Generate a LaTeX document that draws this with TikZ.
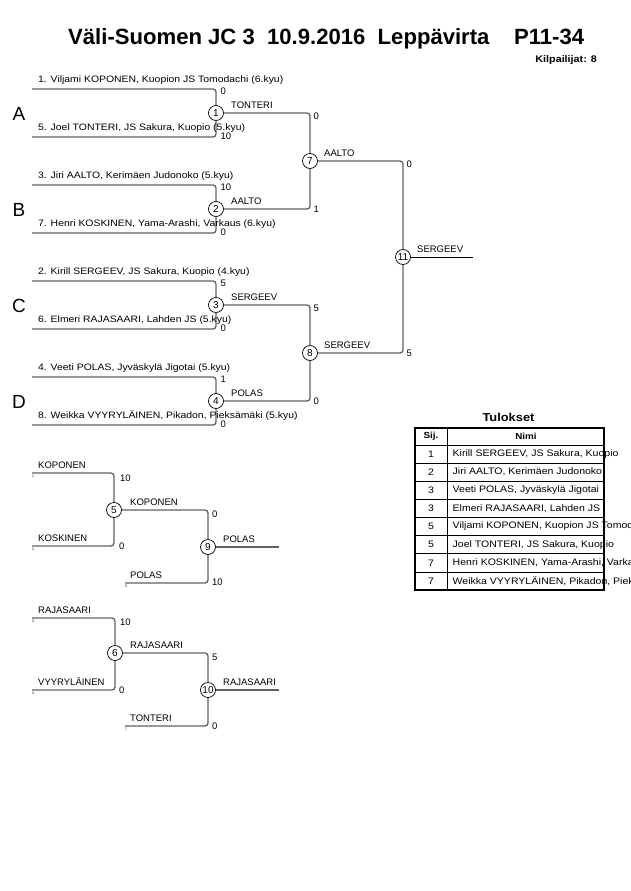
\documentclass[tikz,border=0pt]{standalone}
\usepackage{fontspec}
\setmainfont{Liberation Sans}
\newfontfamily\namefont[FakeStretch=1.12]{Liberation Sans}
\begin{document}
\begin{tikzpicture}[x=1pt,y=-1pt,
  ln/.style={draw=black!62, line width=1.3pt, rounded corners=3pt},
  fin/.style={draw=black, line width=0.9pt},
  mc/.style={circle, draw=black, line width=0.7pt, fill=white, minimum size=15pt, inner sep=0pt, font=\fontsize{10}{10}\selectfont},
  nm/.style={anchor=base west, inner sep=0pt, font=\namefont\fontsize{9.3}{10}\selectfont},
  lb/.style={anchor=base west, inner sep=0pt, font=\fontsize{9.5}{10}\selectfont},
  sc/.style={anchor=west, inner sep=0pt, font=\fontsize{9.5}{10}\selectfont},
  tn/.style={anchor=north west, inner sep=0pt, font=\fontsize{3.5}{4}\selectfont},
  grp/.style={inner sep=0pt, font=\fontsize{19}{20}\selectfont},
  tb/.style={inner sep=0pt, font=\namefont\fontsize{9.4}{10}\selectfont},
]
\useasboundingbox[fill=white] (0,0) rectangle (630,891);

% title
\node[anchor=base west, inner sep=0pt, font=\bfseries\fontsize{22.1}{24}\selectfont] (title) at (68,45) {Väli-Suomen JC 3~~10.9.2016~~Leppävirta~~~~P11-34};
\node[anchor=base east, inner sep=0pt, font=\namefont\bfseries\fontsize{9.6}{10}\selectfont] (kilp) at (597,62.5) {Kilpailijat: 8};

% ---------------- main bracket ----------------
\coordinate (s1) at (32,89);
\coordinate (s5) at (32,137);
\coordinate (s3) at (32,185);
\coordinate (s7) at (32,233);
\coordinate (s2) at (32,281);
\coordinate (s6) at (32,329);
\coordinate (s4) at (32,377);
\coordinate (s8) at (32,425);
\coordinate (f11) at (473,257);

\node[mc] (m1) at (216,113) {1};
\node[mc] (m2) at (216,209) {2};
\node[mc] (m3) at (216,305) {3};
\node[mc] (m4) at (216,401) {4};
\node[mc] (m7) at (310,161) {7};
\node[mc] (m8) at (310,353) {8};
\node[mc] (m11) at (403,257) {11};

\draw[ln] (s1) -| (m1);
\draw[ln] (s5) -| (m1);
\draw[ln] (s3) -| (m2);
\draw[ln] (s7) -| (m2);
\draw[ln] (s2) -| (m3);
\draw[ln] (s6) -| (m3);
\draw[ln] (s4) -| (m4);
\draw[ln] (s8) -| (m4);
\draw[ln] (m1) -| (m7);
\draw[ln] (m2) -| (m7);
\draw[ln] (m3) -| (m8);
\draw[ln] (m4) -| (m8);
\draw[ln] (m7) -| (m11);
\draw[ln] (m8) -| (m11);
\draw[fin] (m11) -- (f11);

% names
\node[nm] (n1) at (38,82.5) {1. Viljami KOPONEN, Kuopion JS Tomodachi (6.kyu)};
\node[nm] (n5) at (38,130.5) {5. Joel TONTERI, JS Sakura, Kuopio (5.kyu)};
\node[nm] (n3) at (38,178.5) {3. Jiri AALTO, Kerimäen Judonoko (5.kyu)};
\node[nm] (n7) at (38,226.5) {7. Henri KOSKINEN, Yama-Arashi, Varkaus (6.kyu)};
\node[nm] (n2) at (38,274.5) {2. Kirill SERGEEV, JS Sakura, Kuopio (4.kyu)};
\node[nm] (n6) at (38,322.5) {6. Elmeri RAJASAARI, Lahden JS (5.kyu)};
\node[nm] (n4) at (38,370.5) {4. Veeti POLAS, Jyväskylä Jigotai (5.kyu)};
\node[nm] (n8) at (38,418.5) {8. Weikka VYYRYLÄINEN, Pikadon, Pieksämäki (5.kyu)};

% pool letters
\node[grp] (gA) at (19,114) {A};
\node[grp] (gB) at (19,210) {B};
\node[grp] (gC) at (19,306) {C};
\node[grp] (gD) at (19,402) {D};

% winner labels
\node[lb] (w1) at (231,108) {TONTERI};
\node[lb] (w2) at (231,204) {AALTO};
\node[lb] (w3) at (231,300) {SERGEEV};
\node[lb] (w4) at (231,396) {POLAS};
\node[lb] (w7) at (324,156) {AALTO};
\node[lb] (w8) at (324,348) {SERGEEV};
\node[lb] (w11) at (417,252) {SERGEEV};

% scores
\node[sc] (c1a) at (220.5,91.5) {0};
\node[sc] (c1b) at (220.5,136) {10};
\node[sc] (c2a) at (220.5,187.5) {10};
\node[sc] (c2b) at (220.5,232) {0};
\node[sc] (c3a) at (220.5,283.5) {5};
\node[sc] (c3b) at (220.5,328) {0};
\node[sc] (c4a) at (220.5,379.5) {1};
\node[sc] (c4b) at (220.5,424) {0};
\node[sc] (c7a) at (313.5,116) {0};
\node[sc] (c7b) at (313.5,209) {1};
\node[sc] (c8a) at (313.5,308) {5};
\node[sc] (c8b) at (313.5,401) {0};
\node[sc] (c11a) at (406.5,164.5) {0};
\node[sc] (c11b) at (406.5,353) {5};

% ---------------- repechage 1 ----------------
\coordinate (r1) at (32,473);
\coordinate (r2) at (32,546);
\coordinate (r5) at (125,583);
\coordinate (f9) at (279,547);
\node[mc] (m5) at (114,510) {5};
\node[mc] (m9) at (208,547) {9};
\draw[ln] (r1) -| (m5);
\draw[ln] (r2) -| (m5);
\draw[ln] (m5) -| (m9);
\draw[ln] (r5) -| (m9);
\draw[ln] (m9) -- (f9);
\node[lb] (l1) at (38,468) {KOPONEN};
\node[lb] (l2) at (38,541) {KOSKINEN};
\node[lb] (l5) at (130,578) {POLAS};
\node[lb] (w5) at (130,505) {KOPONEN};
\node[lb] (w9) at (223,542) {POLAS};
\node[tn] (t1) at (32,475) {1};
\node[tn] (t2) at (32,548) {2};
\node[tn] (t5) at (125,585) {5};
\node[sc] (c5a) at (120,478) {10};
\node[sc] (c5b) at (119,546.5) {0};
\node[sc] (c9a) at (212,514) {0};
\node[sc] (c9b) at (212,582) {10};

% ---------------- repechage 2 ----------------
\coordinate (r3) at (32,618);
\coordinate (r4) at (32,690);
\coordinate (r7) at (125,726);
\coordinate (f10) at (279,690);
\node[mc] (m6) at (115,653) {6};
\node[mc] (m10) at (208,690) {10};
\draw[ln] (r3) -| (m6);
\draw[ln] (r4) -| (m6);
\draw[ln] (m6) -| (m10);
\draw[ln] (r7) -| (m10);
\draw[ln] (m10) -- (f10);
\node[lb] (l3) at (38,613) {RAJASAARI};
\node[lb] (l4) at (38,685) {VYYRYLÄINEN};
\node[lb] (l7) at (130,721) {TONTERI};
\node[lb] (w6) at (130,648) {RAJASAARI};
\node[lb] (w10) at (223,685) {RAJASAARI};
\node[tn] (t3) at (32,620) {3};
\node[tn] (t4) at (32,692) {4};
\node[tn] (t7) at (125,728) {7};
\node[sc] (c6a) at (120,622) {10};
\node[sc] (c6b) at (119,690) {0};
\node[sc] (c10a) at (212,657) {5};
\node[sc] (c10b) at (212,726) {0};

% ---------------- results table ----------------
\node[inner sep=0pt, font=\namefont\bfseries\fontsize{11.5}{12}\selectfont] (tul) at (508.5,417) {Tulokset};
\node[inner sep=0pt, font=\namefont\bfseries\fontsize{8.8}{10}\selectfont] (hs) at (431,436.5) {Sij.};
\node[inner sep=0pt, font=\namefont\bfseries\fontsize{8.8}{10}\selectfont] (hn) at (526,436.5) {Nimi};
\foreach \i/\p/\t in {1/1/{Kirill SERGEEV, JS Sakura, Kuopio},
                      2/2/{Jiri AALTO, Kerimäen Judonoko},
                      3/3/{Veeti POLAS, Jyväskylä Jigotai},
                      4/3/{Elmeri RAJASAARI, Lahden JS},
                      5/5/{Viljami KOPONEN, Kuopion JS Tomodachi},
                      6/5/{Joel TONTERI, JS Sakura, Kuopio},
                      7/7/{Henri KOSKINEN, Yama-Arashi, Varkaus},
                      8/7/{Weikka VYYRYLÄINEN, Pikadon, Pieksämäki}}{
  \node[tb] (rp\i) at (431,{445+18.125*(\i-0.5)}) {\p};
  \node[tb, anchor=west] (rn\i) at (452.5,{445+18.125*(\i-0.5)}) {\t};
}
\foreach \k in {0,1,...,7}{
  \draw[line width=0.6pt] (415,{445+18.125*\k}) -- (604,{445+18.125*\k});
}
\draw[line width=0.6pt] (447,428) -- (447,590);
\draw[line width=1.6pt] (415,428) rectangle (604,590);
\end{tikzpicture}
\end{document}
